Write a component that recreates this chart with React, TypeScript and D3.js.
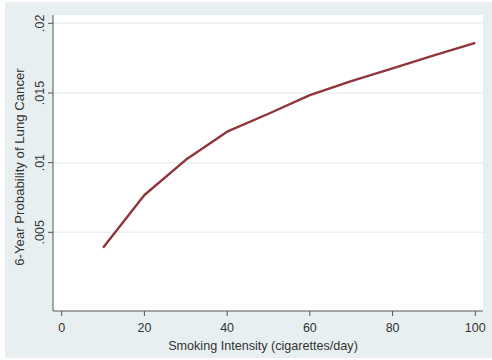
import React from 'react';
import * as d3 from 'd3';

// smoking intensity (cigarettes/day) and predicted 6-year probability
const intensity = [10, 20, 30, 40, 50, 60, 70, 80, 90, 100];
const probability = [0.0039, 0.00768, 0.0102, 0.01222, 0.01351, 0.01485, 0.01585, 0.01676, 0.0177, 0.0186];
const xTicks = [0, 20, 40, 60, 80, 100];
const yTicks = [0.005, 0.01, 0.015, 0.02];
const yTickLabels = ['.005', '.01', '.015', '.02'];

const W = 492;
const H = 360;
const font = "'Liberation Sans', Arial, sans-serif";

const App = () => {
  const plot = { left: 53, right: 483, top: 15, bottom: 311 };

  const x = d3.scaleLinear().domain([0, 100]).range([61.7, 475.3]);
  const y = d3.scaleLinear().domain([0, 0.02]).range([302, 23.3]);

  const line = d3
    .line<number>()
    .x((d, i) => x(intensity[i]))
    .y((d) => y(d));

  return (
    <svg
      width={W}
      height={H}
      style={{ position: 'absolute', left: 0, top: 0, background: '#ffffff' }}
      fontFamily={font}
    >
      {/* outer graph region */}
      <rect x={5} y={2} width={W - 5} height={356} fill="#e8eff1" />
      {/* plot region */}
      <rect x={plot.left} y={plot.top} width={plot.right - plot.left} height={plot.bottom - plot.top} fill="#ffffff" />

      {/* grid */}
      {yTicks.map((t) => (
        <line
          key={'g' + t}
          x1={plot.left}
          x2={plot.right}
          y1={y(t)}
          y2={y(t)}
          stroke="#eaf1f2"
          strokeWidth={1.5}
        />
      ))}

      {/* axes */}
      <line x1={plot.left} x2={plot.left} y1={plot.top} y2={plot.bottom} stroke="#555" strokeWidth={1} />
      <line x1={plot.left} x2={plot.right} y1={plot.bottom} y2={plot.bottom} stroke="#555" strokeWidth={1} />

      {yTicks.map((t, i) => (
        <g key={'y' + t}>
          <line x1={plot.left - 5} x2={plot.left} y1={y(t)} y2={y(t)} stroke="#555" strokeWidth={1} />
          <text
            transform={`translate(43.5,${y(t)}) rotate(-90)`}
            textAnchor="middle"
            fontSize={12.5}
            fill="#333"
          >
            {yTickLabels[i]}
          </text>
        </g>
      ))}

      {xTicks.map((t) => (
        <g key={'x' + t}>
          <line x1={x(t)} x2={x(t)} y1={plot.bottom} y2={plot.bottom + 5} stroke="#555" strokeWidth={1} />
          <text x={x(t)} y={331.5} textAnchor="middle" fontSize={12.5} fill="#333">
            {t}
          </text>
        </g>
      ))}

      {/* titles */}
      <text x={263} y={350} textAnchor="middle" fontSize={12.6} fill="#333">
        Smoking Intensity (cigarettes/day)
      </text>
      <text transform="translate(24,167) rotate(-90)" textAnchor="middle" fontSize={13.2} fill="#333">
        6-Year Probability of Lung Cancer
      </text>

      {/* series */}
      <path d={line(probability) || ''} fill="none" stroke="#90353b" strokeWidth={2.4} strokeLinejoin="round" />
    </svg>
  );
};

export default App;
